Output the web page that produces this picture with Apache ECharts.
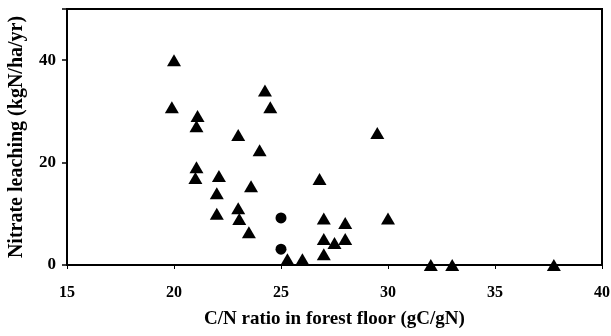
<!DOCTYPE html>
<html>
<head>
<meta charset="utf-8">
<script src="https://cdn.jsdelivr.net/npm/echarts@6/dist/echarts.min.js"></script>
<style>
html, body { margin: 0; padding: 0; background: #fff; }
#chart { width: 611px; height: 336px; }
</style>
</head>
<body>
<div id="chart"></div>
<script>
// C/N ratio (x) vs nitrate leaching (y)
var triX = [20, 19.9, 21.1, 21.05, 23.0, 24.25, 24.5, 24.0, 21.05, 21.0, 22.1, 22.0, 23.6, 22.0, 23.0, 23.05, 23.5,
            25.3, 26.0, 26.8, 27.0, 28.0, 30.0, 27.0, 27.5, 28.0, 27.0, 32.0, 33.0, 37.75, 29.5];
var triY = [40, 30.8, 29.1, 27.1, 25.4, 34.1, 30.8, 22.4, 19.1, 17.0, 17.4, 14.0, 15.4, 10.0, 11.1, 9.0, 6.4,
            1.1, 1.1, 16.8, 9.1, 8.2, 9.1, 5.1, 4.3, 5.1, 2.1, 0, 0, 0, 25.8];
var circX = [25.0, 25.0];
var circY = [9.2, 3.1];

var xTicks = [15, 20, 25, 30, 35, 40];
var yTicks = [0, 20, 40];

function pairs(xs, ys) {
    return xs.map(function (v, i) { return [v, ys[i]]; });
}

var myChart = echarts.init(document.getElementById('chart'));
var font = 'Liberation Serif';
var option = {
    backgroundColor: '#fff',
    animation: false,
    grid: {
        left: 67, right: 9, top: 9, bottom: 71,
        containLabel: false,
        outerBoundsMode: 'none',
        show: true,
        borderColor: '#000',
        borderWidth: 2
    },
    xAxis: {
        type: 'value',
        min: 15, max: 40, interval: 5,
        name: 'C/N ratio in forest floor (gC/gN)',
        nameLocation: 'middle',
        nameGap: 45,
        nameTextStyle: { fontFamily: font, fontWeight: 'bold', fontSize: 19, color: '#000' },
        axisLine: { lineStyle: { color: '#000', width: 2 } },
        axisTick: { show: true, inside: false, length: 4, lineStyle: { color: '#000' } },
        axisLabel: {
            fontFamily: font, fontWeight: 'bold', fontSize: 16, color: '#000', margin: 20,
            formatter: function (v) { return xTicks.indexOf(v) >= 0 ? String(v) : ''; }
        },
        splitLine: { show: false }
    },
    yAxis: {
        type: 'value',
        min: 0, max: 50, interval: 20,
        name: 'Nitrate leaching (kgN/ha/yr)',
        nameLocation: 'middle',
        nameGap: 40,
        nameTextStyle: { fontFamily: font, fontWeight: 'bold', fontSize: 20, color: '#000' },
        axisLine: { lineStyle: { color: '#000', width: 2 } },
        axisTick: { show: true, inside: false, length: 5, lineStyle: { color: '#000', width: 1.5 } },
        axisLabel: {
            fontFamily: font, fontWeight: 'bold', fontSize: 17, color: '#000', margin: 11,
            formatter: function (v) { return yTicks.indexOf(v) >= 0 ? String(v) : ''; }
        },
        splitLine: { show: false }
    },
    series: [{
        type: 'scatter',
        symbol: 'triangle',
        symbolSize: [14, 12],
        itemStyle: { color: '#000', opacity: 1 },
        data: pairs(triX, triY)
    }, {
        type: 'scatter',
        symbol: 'circle',
        symbolSize: 11,
        itemStyle: { color: '#000', opacity: 1 },
        data: pairs(circX, circY)
    }]
};
myChart.setOption(option);
</script>
</body>
</html>
